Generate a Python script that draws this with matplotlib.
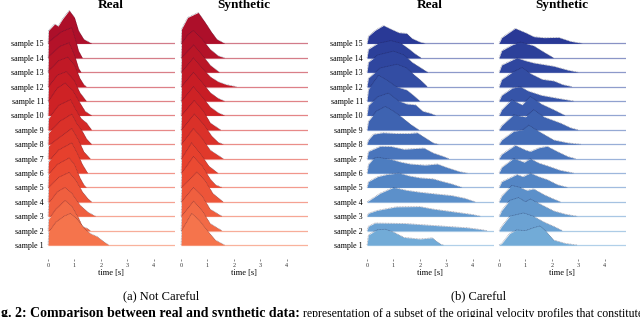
import numpy as np
import matplotlib
matplotlib.use('Agg')
import matplotlib.pyplot as plt
from matplotlib.colors import LinearSegmentedColormap

plt.rcParams['font.family'] = ['Liberation Serif', 'DejaVu Serif']

# ridge profiles: (time [s], height in row units), samples 1 -> 15
nc_real = [
    [(0,0),(0.02,0.9),(0.3,1.6),(0.6,2.0),(0.85,2.2),(1.1,1.8),(1.4,1.1),(1.6,0.8),(1.85,0.6),(2.1,0.25),(2.3,0)],
    [(0,0),(0.02,0.8),(0.3,1.5),(0.65,2.1),(0.9,1.7),(1.15,0.9),(1.3,0.3),(1.5,0.15),(1.6,0)],
    [(0,0),(0.02,0.9),(0.35,1.7),(0.64,2.0),(0.9,1.6),(1.2,0.8),(1.5,0.3),(1.8,0)],
    [(0,0),(0.02,1.0),(0.4,1.7),(0.8,2.05),(1.05,1.5),(1.3,0.7),(1.5,0.25),(1.65,0)],
    [(0,0),(0.02,0.9),(0.35,1.6),(0.8,2.05),(1.0,1.6),(1.2,0.7),(1.35,0.2),(1.45,0)],
    [(0,0),(0.02,0.8),(0.4,1.6),(0.9,2.1),(1.1,1.4),(1.3,0.6),(1.5,0)],
    [(0,0),(0.02,0.9),(0.45,1.5),(0.9,2.1),(1.15,1.3),(1.35,0.5),(1.6,0)],
    [(0,0),(0.02,0.8),(0.45,1.6),(0.9,2.1),(1.1,1.4),(1.3,0.9),(1.45,0.4),(1.65,0)],
    [(0,0),(0.02,0.8),(0.4,1.7),(0.85,2.1),(1.05,1.4),(1.25,0.8),(1.45,0.5),(1.65,0)],
    [(0,0),(0.02,1.0),(0.35,1.9),(0.65,2.25),(0.95,1.7),(1.2,0.9),(1.4,0.3),(1.65,0)],
    [(0,0),(0.02,1.0),(0.35,1.8),(0.7,2.05),(1.0,1.4),(1.2,0.6),(1.45,0)],
    [(0,0),(0.02,1.1),(0.4,1.8),(0.75,2.05),(1.0,1.5),(1.2,0.6),(1.35,0.15),(1.45,0)],
    [(0,0),(0.02,1.1),(0.45,1.8),(0.8,2.05),(1.0,1.2),(1.15,0.3),(1.25,0)],
    [(0,0),(0.02,1.1),(0.5,1.8),(0.9,2.1),(1.05,1.2),(1.15,0.5),(1.3,0)],
    [(0,0),(0.02,0.9),(0.25,1.35),(0.38,1.2),(0.55,1.7),(0.8,2.3),(1.0,1.8),(1.15,0.9),(1.35,0.3),(1.65,0)],
]
nc_synth = [
    [(0,0),(0.02,1.0),(0.4,2.2),(0.7,1.7),(1.0,1.0),(1.3,0.35),(1.65,0)],
    [(0,0),(0.02,1.0),(0.47,2.05),(0.8,1.4),(1.1,0.5),(1.55,0)],
    [(0,0),(0.02,1.0),(0.47,2.0),(0.8,1.4),(1.1,0.5),(1.55,0)],
    [(0,0),(0.02,1.0),(0.6,2.07),(0.9,1.5),(1.2,0.6),(1.6,0)],
    [(0,0),(0.02,1.0),(0.47,2.15),(0.8,1.5),(1.1,0.6),(1.3,0.2),(1.55,0)],
    [(0,0),(0.02,1.0),(0.4,2.1),(0.75,1.3),(1.05,0.5),(1.4,0)],
    [(0,0),(0.02,1.0),(0.47,2.1),(0.8,1.4),(1.1,0.6),(1.6,0)],
    [(0,0),(0.02,1.0),(0.5,2.1),(0.85,1.4),(1.15,0.6),(1.4,0.15),(1.6,0)],
    [(0,0),(0.02,1.0),(0.5,2.05),(0.85,1.3),(1.1,0.5),(1.5,0)],
    [(0,0),(0.02,1.0),(0.47,2.0),(0.8,1.3),(1.1,0.6),(1.4,0.2),(1.65,0)],
    [(0,0),(0.02,1.0),(0.47,2.0),(0.8,1.3),(1.1,0.6),(1.4,0.2),(1.65,0)],
    [(0,0),(0.02,1.0),(0.47,2.0),(0.8,1.3),(1.1,0.7),(1.4,0.35),(1.7,0.15),(2.1,0)],
    [(0,0),(0.02,1.0),(0.47,1.9),(0.8,1.2),(1.1,0.5),(1.45,0)],
    [(0,0),(0.02,1.0),(0.25,1.6),(0.47,1.9),(0.8,1.3),(1.1,0.6),(1.4,0.15),(1.65,0)],
    [(0,0),(0.02,1.0),(0.25,1.8),(0.65,2.15),(0.9,1.5),(1.15,0.8),(1.35,0.3),(1.65,0)],
]
c_real = [
    [(0,0),(0.05,0.7),(0.37,1.05),(0.69,1.1),(1.0,0.9),(1.4,0.53),(2.0,0.42),(2.47,0.5),(2.6,0.3),(2.8,0.05),(2.9,0)],
    [(0,0),(0.05,0.3),(0.3,0.53),(1.4,0.5),(2.2,0.4),(3.0,0.3),(3.8,0.2),(4.3,0.08),(4.55,0)],
    [(0,0),(0.05,0.2),(0.37,0.4),(1.1,0.65),(2.0,0.67),(2.5,0.5),(2.9,0.4),(3.5,0.25),(4.0,0.12),(4.3,0)],
    [(0,0),(0.5,0.6),(1.0,1.0),(1.5,0.8),(2.0,0.67),(2.6,0.55),(3.2,0.44),(3.7,0.25),(4.1,0)],
    [(0,0),(0.05,0.4),(0.4,0.75),(0.75,0.9),(1.2,1.0),(1.6,0.8),(2.0,0.67),(2.5,0.6),(2.8,0.44),(3.2,0.25),(3.6,0)],
    [(0,0),(0.05,0.6),(0.24,1.0),(0.37,1.1),(0.9,0.95),(1.3,0.75),(1.64,0.63),(2.2,0.55),(2.66,0.63),(3.0,0.4),(3.5,0.1),(3.8,0)],
    [(0,0),(0.05,0.5),(0.5,0.86),(0.9,0.85),(1.4,0.65),(1.8,0.7),(2.15,0.74),(2.5,0.4),(2.9,0.15),(3.1,0)],
    [(0,0),(0.05,0.3),(0.24,0.7),(0.6,0.8),(1.1,0.75),(1.6,0.75),(1.9,0.8),(2.2,0.45),(2.5,0.1),(2.7,0)],
    [(0,0),(0.05,0.6),(0.35,1.3),(0.69,1.63),(1.0,1.3),(1.3,0.9),(1.64,0.4),(1.96,0)],
    [(0,0),(0.05,0.7),(0.4,1.3),(0.81,1.56),(1.2,1.0),(1.5,0.8),(1.83,0.74),(2.1,0.3),(2.4,0.15),(2.6,0)],
    [(0,0),(0.05,0.8),(0.43,1.8),(0.8,1.4),(1.1,1.0),(1.5,0.77),(1.75,0.4),(2.0,0)],
    [(0,0),(0.05,0.6),(0.5,1.3),(1.13,1.56),(1.5,1.3),(1.8,0.8),(2.0,0.5),(2.28,0)],
    [(0,0),(0.05,0.7),(0.4,1.2),(1.0,1.47),(1.4,1.2),(1.7,0.7),(2.0,0.35),(2.3,0)],
    [(0,0),(0.05,0.6),(0.4,1.0),(0.9,1.2),(1.3,1.0),(1.6,0.6),(1.8,0.3),(2.05,0)],
    [(0,0),(0.05,0.5),(0.3,0.9),(0.62,1.25),(0.9,1.0),(1.2,0.75),(1.5,0.7),(1.7,0.35),(2.0,0.1),(2.2,0)],
]
c_synth = [
    [(0,0),(0.1,0.1),(0.4,0.8),(0.67,1.05),(1.0,1.0),(1.3,1.2),(1.56,1.33),(1.8,0.9),(2.07,0.35),(2.5,0.12),(2.96,0)],
    [(0,0),(0.1,0.3),(0.4,1.0),(0.93,1.23),(1.3,1.0),(1.7,0.6),(2.07,0.3),(2.4,0)],
    [(0,0),(0.1,0.4),(0.4,1.1),(0.74,1.3),(1.0,1.0),(1.18,1.2),(1.5,0.9),(2.07,0.37),(2.5,0.15),(2.96,0)],
    [(0,0),(0.1,0.4),(0.48,1.14),(0.8,1.0),(1.05,0.8),(1.31,0.9),(1.7,0.5),(2.0,0.25),(2.33,0)],
    [(0,0),(0.1,0.4),(0.67,0.9),(0.9,0.75),(1.18,1.0),(1.5,0.75),(1.82,0.55),(2.2,0.2),(2.6,0)],
    [(0,0),(0.1,0.4),(0.55,1.02),(0.95,0.75),(1.18,1.0),(1.5,0.7),(1.82,0.51),(2.3,0.2),(2.84,0)],
    [(0,0),(0.1,0.3),(0.61,0.93),(1.0,0.6),(1.18,0.5),(1.5,0.75),(1.82,0.86),(2.2,0.5),(2.6,0.15),(2.9,0)],
    [(0,0),(0.1,0.3),(0.55,0.9),(0.9,1.0),(1.12,1.33),(1.5,0.9),(2.07,0.3),(2.6,0.1),(3.1,0)],
    [(0,0),(0.1,0.3),(0.55,1.05),(1.0,0.9),(1.31,1.4),(1.7,0.9),(2.33,0.47),(2.7,0.15),(3.0,0)],
    [(0,0),(0.1,0.4),(0.48,1.1),(0.87,0.74),(1.18,1.33),(1.6,0.8),(2.07,0.4),(2.5,0)],
    [(0,0),(0.1,0.4),(0.5,0.9),(0.8,1.0),(1.1,0.7),(1.6,0.4),(2.2,0.2),(2.84,0)],
    [(0,0),(0.1,0.5),(0.5,1.0),(0.87,1.33),(1.2,0.9),(1.63,0.51),(2.07,0.4),(2.4,0.15),(2.77,0)],
    [(0,0),(0.1,0.5),(0.67,1.0),(1.0,0.8),(1.31,0.65),(2.07,0.42),(2.6,0.15),(3.0,0)],
    [(0,0),(0.1,0.5),(0.5,0.9),(0.8,1.1),(1.3,0.85),(1.7,0.4),(2.07,0)],
    [(0,0),(0.1,0.4),(0.61,1.05),(1.0,0.75),(1.31,0.47),(1.7,0.4),(2.26,0.42),(2.7,0.15),(3.15,0)],
]

sample_labels = ['sample %d' % i for i in range(1, 16)]
time_ticks = [0, 1, 2, 3, 4]

reds = LinearSegmentedColormap.from_list('r', ['#f5744c', '#e8432e', '#cc1f24', '#ad0f2a'])
blues = LinearSegmentedColormap.from_list('b', ['#72abd7', '#4f80c2', '#3858ab', '#293996'])

W, H = 640, 317
fig = plt.figure(figsize=(W / 100, H / 100), dpi=100)

row_px = 14.4
sec_px = 26.4
xlim = (-0.05, 4.8)
bot_px, top_px = 259, 4
base1_px = 245


def add_panel(left_px, data, cmap, title, labels):
    w = (xlim[1] - xlim[0]) * sec_px
    ax = fig.add_axes([left_px / W, 1 - bot_px / H, w / W, (bot_px - top_px) / H])
    n = len(data)
    for k in range(n - 1, -1, -1):
        pts = np.array(data[k])
        col = cmap(k / (n - 1))
        z = (n - k) * 3
        ax.fill_between(pts[:, 0], k, k + pts[:, 1], color=col, lw=0, zorder=z)
        ax.plot(pts[:, 0], k + pts[:, 1], color='#1a1a3a', lw=0.45, ls=(0, (1.5, 1)),
                alpha=0.45, zorder=z + 1)
        ax.plot([0, xlim[1]], [k, k], color=col, lw=0.9, alpha=0.55, zorder=z + 1,
                solid_capstyle='butt')
    ax.set_xlim(*xlim)
    ax.set_ylim(-(bot_px - base1_px) / row_px, (base1_px - top_px) / row_px)
    for s in ax.spines.values():
        s.set_visible(False)
    ax.set_yticks([])
    ax.set_xticks(time_ticks)
    ax.tick_params(axis='x', length=1.5, width=0.4, pad=1.5, labelsize=4.5, colors='#333333')
    if labels:
        ax.set_yticks(range(n))
        ax.set_yticklabels(sample_labels, fontsize=5.8)
        ax.tick_params(axis='y', length=0, pad=2)
    cx = left_px + w / 2
    fig.text(cx / W, 1 - 5 / H, title, ha='center', va='center', fontsize=9.5, fontweight='bold')
    fig.text(cx / W, 1 - 273 / H, 'time [s]', ha='center', va='center', fontsize=6)
    return ax


add_panel(46.7, nc_real, reds, 'Real', True)
add_panel(179.7, nc_synth, reds, 'Synthetic', False)
add_panel(365.7, c_real, blues, 'Real', True)
add_panel(497.7, c_synth, blues, 'Synthetic', False)

fig.text(161 / W, 1 - 296 / H, '(a) Not Careful', ha='center', va='center', fontsize=9)
fig.text(479 / W, 1 - 296 / H, '(b) Careful', ha='center', va='center', fontsize=9)

# figure caption, cut by the lower edge as in the source page
fig.text(300 / W, 1 - 316.5 / H, 'g. 2: Comparison between real and synthetic data:',
         ha='right', va='baseline', fontsize=10, fontweight='bold')
fig.text(303 / W, 1 - 316.5 / H,
         'representation of a subset of the original velocity profiles that constitute',
         ha='left', va='baseline', fontsize=8.5)

fig.savefig('out.png', dpi=100)
